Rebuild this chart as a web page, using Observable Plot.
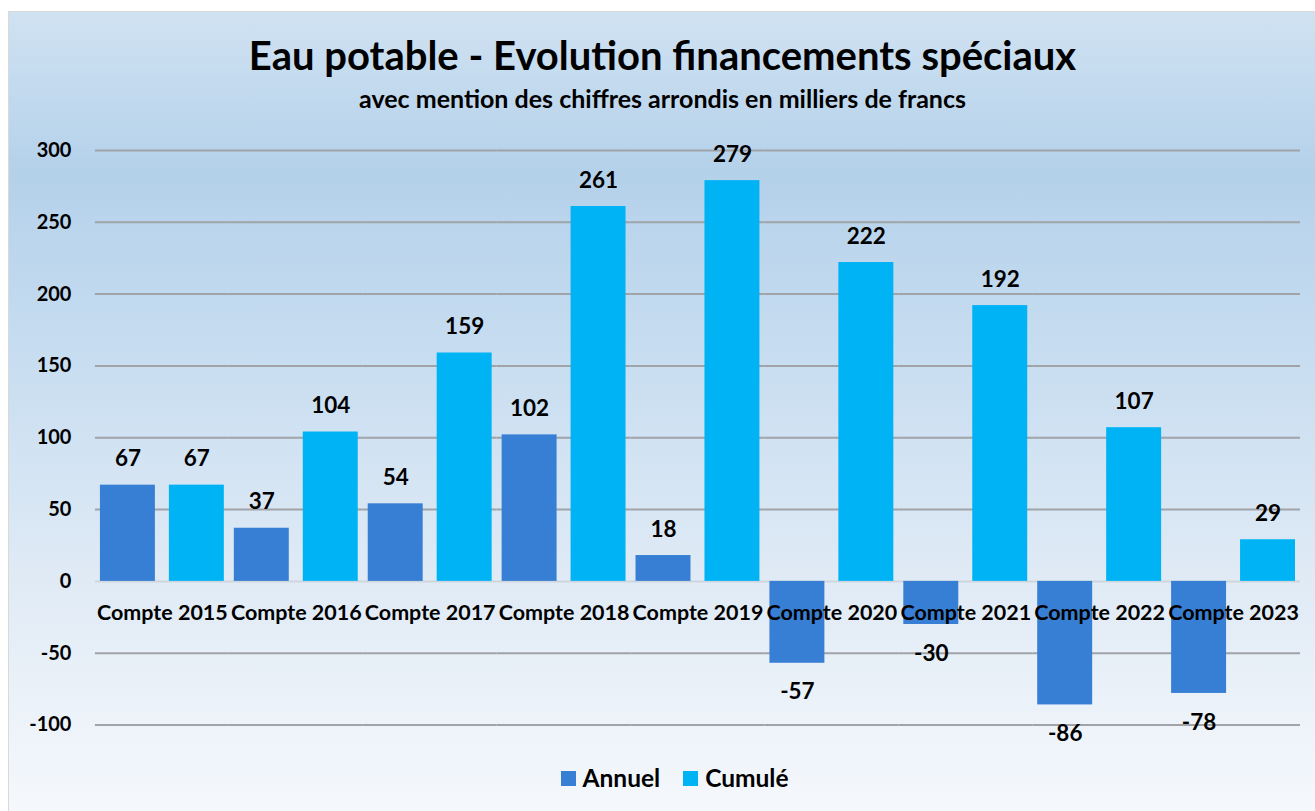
<!DOCTYPE html>
<html>
<head>
<meta charset="utf-8">
<script src="https://cdn.jsdelivr.net/npm/d3@7"></script>
<script src="https://cdn.jsdelivr.net/npm/@observablehq/plot@0.6"></script>
<style>
  html, body { margin: 0; padding: 0; background: #ffffff; }
  body { width: 1315px; height: 811px; position: relative; overflow: hidden; font-family: Lato, "Open Sans", sans-serif; }
  #frame {
    position: absolute; left: 8px; top: 11px; width: 1307px; height: 800px;
    box-sizing: border-box; border: 1px solid #d9d9d9; border-right: none; border-bottom: none;
    background: linear-gradient(to bottom, #d0e2f2 0%, #b4d1ea 20%, #c9def1 45%, #dfeaf5 70%, #f5f8fc 100%);
  }
  #title { position: absolute; left: 0; width: 1307px; top: 23px; text-align: center; font-weight: 700; font-size: 40px; color: #000; line-height: 1; }
  #subtitle { position: absolute; left: 0; width: 1307px; top: 74px; text-align: center; font-weight: 700; font-size: 25px; color: #000; line-height: 1; }
  #chart { position: absolute; left: 0; top: 103px; }
  #legend { position: absolute; left: 12px; width: 1307px; top: 754px; display: flex; justify-content: center; gap: 23px; font-weight: 700; font-size: 24.5px; line-height: 1; }
  .item { display: flex; align-items: center; gap: 7px; }
  .sw { width: 15px; height: 15px; display: inline-block; }
</style>
</head>
<body>
<div id="frame">
  <div id="title">Eau potable - Evolution financements spéciaux</div>
  <div id="subtitle">avec mention des chiffres arrondis en milliers de francs</div>
  <div id="chart"></div>
  <div id="legend"></div>
</div>
<script>
const years = ["Compte 2015","Compte 2016","Compte 2017","Compte 2018","Compte 2019","Compte 2020","Compte 2021","Compte 2022","Compte 2023"];
const series = ["Annuel","Cumulé"];
const annuel = [67, 37, 54, 102, 18, -57, -30, -86, -78];
const cumule = [67, 104, 159, 261, 279, 222, 192, 107, 29];
const colors = ["#377fd4", "#00b3f5"];
const yTicks = [-100, -50, 0, 50, 100, 150, 200, 250, 300];

const rows = [];
years.forEach((y, i) => {
  rows.push({year: y, series: series[0], value: annuel[i]});
  rows.push({year: y, series: series[1], value: cumule[i]});
});

const chart = Plot.plot({
  width: 1307,
  height: 631,
  marginLeft: 85,
  marginRight: 15,
  marginTop: 35,
  marginBottom: 21,
  style: {background: "transparent", fontFamily: "Lato, 'Open Sans', sans-serif", fontWeight: 700, fontSize: "20px", color: "#000"},
  fx: {domain: years, axis: null, paddingInner: 0, paddingOuter: 0},
  x: {domain: series, axis: null, paddingInner: 0.203, paddingOuter: 0.06},
  y: {domain: [-100, 300], ticks: yTicks, tickSize: 0, tickPadding: 24, label: null, tickFormat: d => String(d)},
  color: {domain: series, range: colors},
  marks: [
    Plot.ruleY(yTicks.filter(t => t !== 0), {stroke: "#a0a3a7", strokeWidth: 2}),
    Plot.ruleY([0], {stroke: "#cfd5dc", strokeWidth: 2}),
    Plot.barY(rows, {fx: "year", x: "series", y: "value", fill: "series"}),
    Plot.text(rows.filter(d => d.value >= 0), {fx: "year", x: "series", y: "value", text: d => String(d.value), dy: -26, fontSize: 22.5, fontWeight: 700, fill: "#000"}),
    Plot.text(rows.filter(d => d.value < 0), {fx: "year", x: "series", y: "value", text: d => String(d.value), dy: 29, fontSize: 22.5, fontWeight: 700, fill: "#000"}),
    Plot.text(years, {fx: d => d, y: () => 0, text: d => d, dy: 32, fontSize: 21.5, fontWeight: 700, fill: "#000"})
  ]
});
document.getElementById("chart").appendChild(chart);

const legend = document.getElementById("legend");
series.forEach((s, i) => {
  const it = document.createElement("div");
  it.className = "item";
  const sw = document.createElement("span");
  sw.className = "sw";
  sw.style.background = colors[i];
  const t = document.createElement("span");
  t.textContent = s;
  it.appendChild(sw); it.appendChild(t);
  legend.appendChild(it);
});
</script>
</body>
</html>
